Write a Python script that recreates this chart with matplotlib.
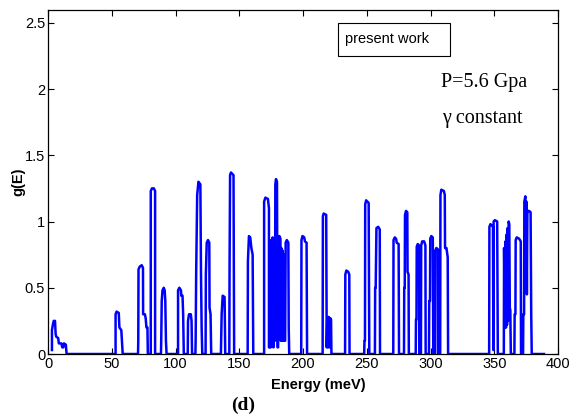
import matplotlib
matplotlib.use('Agg')
import matplotlib.pyplot as plt
from matplotlib.patches import Rectangle

# phonon density of states g(E), traced peak by peak (energy in meV)
energy = [
    3.1, 3.1, 3.8, 4.5, 5.5, 6.0, 6.5, 8.0, 8.5, 10.5, 11.2, 12.0, 12.5, 14.0, 14.6,
    53.0, 53.0, 53.8, 55.5, 56.0, 57.5, 58.0, 58.6,
    70.6, 70.8, 71.0, 72.0, 73.5, 74.5, 74.6, 76.0, 76.6, 77.2, 78.0, 78.3,
    80.6, 80.6, 81.5, 83.0, 84.0, 84.0,
    88.6, 88.8, 89.2, 89.8, 90.8, 91.5, 92.0, 92.5, 93.0,
    102.0, 102.0, 103.0, 104.3, 104.5, 105.5, 106.0, 106.5,
    109.6, 109.8, 110.6, 112.0, 112.6, 113.0,
    115.6, 115.8, 116.2, 117.0, 118.0, 119.5, 120.0, 120.5, 121.0,
    123.6, 123.8, 124.5, 125.5, 126.5, 126.7, 127.5, 128.0,
    135.6, 135.8, 136.2, 137.0, 138.5, 139.0,
    142.2, 142.4, 142.8, 143.5, 145.5, 146.0,
    156.6, 156.8, 157.6, 158.6, 159.5, 160.5, 161.0,
    169.5, 169.5, 170.5, 172.5, 173.3, 173.3, 173.8, 174.0, 174.6, 175.1, 175.7, 176.2,
    176.8, 177.3, 177.6, 178.0, 178.3, 178.8, 179.6, 180.0, 180.5, 180.7, 181.5, 182.3,
    182.6, 183.0, 183.5, 184.0, 184.5, 185.0, 185.5, 186.0, 186.4, 187.3, 188.5, 188.8, 189.2,
    198.6, 198.8, 199.6, 201.0, 201.5, 202.8, 203.2,
    215.4, 215.6, 216.2, 218.2, 218.6, 219.0, 219.6, 220.2, 220.8, 221.4, 222.0, 222.3,
    233.0, 233.2, 234.0, 235.5, 236.3, 236.5,
    248.0, 248.2, 248.6, 248.8, 249.5, 251.5, 252.0,
    256.4, 256.6, 257.0, 257.6, 259.0, 260.2, 260.4,
    270.8, 271.0, 272.0, 273.0, 273.5, 275.0, 275.3,
    279.2, 279.4, 279.8, 280.0, 280.8, 281.8, 282.0, 282.8, 283.0,
    288.4, 288.6, 289.0, 289.2, 290.0, 291.0, 291.2,
    292.5, 292.7, 293.5, 295.0, 296.0, 296.2,
    298.8, 299.0, 299.6, 299.8, 300.6, 301.8, 302.2,
    303.6, 303.8, 304.6, 305.8, 306.0,
    307.6, 307.8, 308.5, 310.5, 311.2, 311.4, 312.5, 313.5, 313.8,
    346.0, 346.2, 347.0, 349.0, 349.3, 349.5, 350.5, 352.3, 352.8,
    357.5, 357.7, 358.4, 358.8, 359.2, 359.6, 360.0, 360.4, 360.8, 361.3, 361.8, 362.2, 362.6, 363.0,
    365.8, 366.0, 366.6, 366.8, 367.6, 369.5, 370.8, 371.0,
    372.6, 372.8, 373.4, 373.6, 374.4, 374.8, 375.2, 375.6, 376.0, 377.2, 378.5, 379.0, 379.4,
    389.0,
]
g_E = [
    0.03, 0.18, 0.22, 0.25, 0.25, 0.15, 0.13, 0.12, 0.08, 0.08, 0.05, 0.05, 0.08, 0.07, 0.0,
    0.0, 0.30, 0.32, 0.31, 0.20, 0.18, 0.10, 0.0,
    0.0, 0.10, 0.64, 0.66, 0.67, 0.65, 0.30, 0.30, 0.27, 0.20, 0.20, 0.0,
    0.0, 1.23, 1.25, 1.25, 1.23, 0.0,
    0.0, 0.10, 0.40, 0.48, 0.50, 0.48, 0.40, 0.10, 0.0,
    0.0, 0.48, 0.50, 0.48, 0.44, 0.44, 0.30, 0.0,
    0.0, 0.25, 0.30, 0.30, 0.25, 0.0,
    0.0, 0.10, 0.60, 1.20, 1.30, 1.28, 0.60, 0.20, 0.0,
    0.0, 0.60, 0.84, 0.86, 0.84, 0.35, 0.30, 0.0,
    0.0, 0.10, 0.30, 0.44, 0.43, 0.0,
    0.0, 0.65, 1.35, 1.37, 1.35, 0.0,
    0.0, 0.70, 0.89, 0.88, 0.80, 0.75, 0.0,
    0.0, 1.15, 1.18, 1.17, 1.10, 0.05, 0.05, 0.83, 0.05, 0.86, 0.08, 0.88,
    0.05, 0.85, 0.10, 0.10, 1.28, 1.32, 1.30, 0.05, 0.05, 0.88, 0.89, 0.87,
    0.10, 0.80, 0.10, 0.78, 0.10, 0.75, 0.10, 0.10, 0.84, 0.86, 0.84, 0.20, 0.0,
    0.0, 0.86, 0.89, 0.88, 0.85, 0.84, 0.0,
    0.0, 1.04, 1.06, 1.05, 0.05, 0.25, 0.05, 0.28, 0.05, 0.27, 0.26, 0.0,
    0.0, 0.60, 0.63, 0.62, 0.60, 0.0,
    0.0, 0.10, 0.10, 1.13, 1.16, 1.14, 0.0,
    0.0, 0.50, 0.50, 0.95, 0.96, 0.94, 0.0,
    0.0, 0.86, 0.88, 0.87, 0.84, 0.83, 0.0,
    0.0, 0.50, 0.50, 1.05, 1.08, 1.07, 0.62, 0.60, 0.0,
    0.0, 0.26, 0.26, 0.81, 0.83, 0.82, 0.0,
    0.0, 0.82, 0.85, 0.85, 0.82, 0.0,
    0.0, 0.40, 0.40, 0.87, 0.89, 0.88, 0.0,
    0.0, 0.78, 0.80, 0.79, 0.0,
    0.0, 1.20, 1.24, 1.23, 1.20, 0.80, 0.80, 0.73, 0.0,
    0.0, 0.96, 0.98, 0.96, 0.03, 1.00, 1.01, 1.00, 0.0,
    0.0, 0.80, 0.20, 0.85, 0.20, 0.90, 0.22, 0.95, 0.25, 1.00, 0.98, 0.35, 0.33, 0.0,
    0.0, 0.30, 0.30, 0.86, 0.88, 0.87, 0.85, 0.0,
    0.0, 0.30, 0.30, 1.15, 1.19, 0.50, 1.15, 0.45, 1.08, 1.08, 1.07, 0.30, 0.0,
    0.0,
]

x_ticks = [0, 50, 100, 150, 200, 250, 300, 350, 400]
y_ticks = [0, 0.5, 1, 1.5, 2, 2.5]
y_tick_labels = ['0', '0.5', '1', '1.5', '2', '2.5']

sans = 'Liberation Sans'
serif = 'Liberation Serif'

fig = plt.figure(figsize=(5.81, 4.17), dpi=100)
ax = fig.add_axes([48 / 581, 1 - 354 / 417, 510 / 581, 344.5 / 417])

ax.plot(energy, g_E, color='#0000ff', linewidth=1.8)

ax.set_xlim(0, 400)
ax.set_ylim(0, 2.6)
ax.set_xticks(x_ticks)
ax.set_xticklabels([str(t) for t in x_ticks], fontfamily=sans, fontsize=10.5)
ax.set_yticks(y_ticks)
ax.set_yticklabels(y_tick_labels, fontfamily=sans, fontsize=10.5)
ax.tick_params(direction='in', top=True, right=True, length=4, width=0.8, pad=2)
for sp in ax.spines.values():
    sp.set_linewidth(0.9)

ax.set_xlabel('Energy (meV)', fontfamily=sans, fontweight='bold', fontsize=10.5)
ax.xaxis.set_label_coords(0.53, -0.07)
ax.set_ylabel('g(E)', fontfamily=sans, fontweight='bold', fontsize=10.5)
ax.yaxis.set_label_coords(-0.045, 0.5)

# panel letter under the axis
fig.text(243 / 581, 1 - 405 / 417, '(d)', fontfamily=serif, fontweight='bold',
         fontsize=14, ha='center', va='center')

# annotations inside the plot
ax.add_patch(Rectangle((0.569, 0.865), 0.219, 0.096, transform=ax.transAxes,
                       facecolor='white', edgecolor='black', linewidth=0.8, zorder=3))
ax.text(0.582, 0.913, 'present work', transform=ax.transAxes, fontfamily=sans,
        fontsize=10.5, ha='left', va='center', zorder=4)
ax.text(0.770, 0.787, 'P=5.6 Gpa', transform=ax.transAxes, fontfamily=serif,
        fontsize=14.5, ha='left', va='center')
ax.text(0.773, 0.685, '\u03b3 constant', transform=ax.transAxes, fontfamily=serif,
        fontsize=14.5, ha='left', va='center')

fig.savefig('out.png', dpi=100)
